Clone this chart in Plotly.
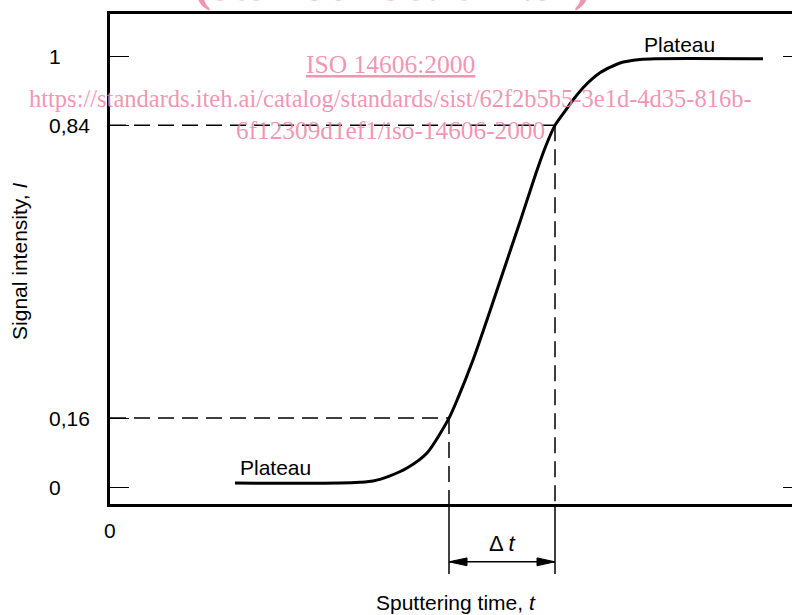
import plotly.graph_objects as go

# ---- data ----
time_t = [12.5, 23.0, 25.0, 26.3, 28.0, 29.7, 31.7, 33.9, 34.8, 36.3, 38.0, 39.3,
          41.0, 42.7, 43.7, 44.5, 45.5, 46.3, 47.5, 49.0, 51.0, 53.0, 54.5, 65.3]
intensity = [0.009, 0.009, 0.011, 0.014, 0.026, 0.044, 0.079, 0.16, 0.207, 0.295,
             0.409, 0.499, 0.616, 0.736, 0.799, 0.84, 0.873, 0.899, 0.932, 0.962, 0.985,
             0.993, 0.995, 0.995]
level_low, level_high = 0.16, 0.84
t_low, t_high = 33.9, 44.5
y_tick_vals = [0, 0.16, 0.84, 1]
y_tick_text = ["0", "0,16", "0,84", "1"]
right_tick_vals = [0, 1]

X_RANGE = [0, 68.2]
Y_RANGE = [-0.0395, 1.0987]

SANS = "Liberation Sans, Arial, sans-serif"
SERIF = "Liberation Serif, Times New Roman, serif"
PINK = "rgba(240,130,165,0.85)"
FS = 21

fig = go.Figure()
fig.add_trace(go.Scatter(x=time_t, y=intensity, mode="lines",
                         line=dict(color="black", width=3, shape="spline", smoothing=0.7),
                         hoverinfo="skip", showlegend=False))
# invisible trace for the right-hand ticks axis
fig.add_trace(go.Scatter(x=[None], y=[None], yaxis="y2", showlegend=False))

dash = "16px,8px"
for lvl, tt in [(level_low, t_low), (level_high, t_high)]:
    fig.add_shape(type="line", xref="x", yref="y", x0=0, x1=tt, y0=lvl, y1=lvl,
                  line=dict(color="black", width=1.5, dash=dash))
    fig.add_shape(type="line", xref="x", yref="y", x0=tt, x1=tt, y0=lvl, y1=Y_RANGE[0],
                  line=dict(color="black", width=1.5, dash=dash))
    fig.add_shape(type="line", xref="x", yref="paper", x0=tt, x1=tt, y0=0, y1=-0.143,
                  line=dict(color="black", width=1.5))

# double arrow for delta t
ya = -0.118
fig.add_shape(type="line", xref="x", yref="paper", x0=t_low, x1=t_high, y0=ya, y1=ya,
              line=dict(color="black", width=1.5))
hl, hw = 1.8, 0.008
fig.add_shape(type="path", xref="x", yref="paper",
              path=f"M {t_low},{ya} L {t_low+hl},{ya+hw} L {t_low+hl},{ya-hw} Z",
              fillcolor="black", line=dict(color="black", width=1))
fig.add_shape(type="path", xref="x", yref="paper",
              path=f"M {t_high},{ya} L {t_high-hl},{ya+hw} L {t_high-hl},{ya-hw} Z",
              fillcolor="black", line=dict(color="black", width=1))

ann = []
for v, txt in zip(y_tick_vals, y_tick_text):
    ann.append(dict(x=-0.092, xref="paper", y=v, yref="y", text=txt, showarrow=False,
                    xanchor="left", yanchor="middle", font=dict(family=SANS, size=FS, color="black")))
ann.append(dict(x=0, xref="x", y=-0.055, yref="paper", text="0", showarrow=False,
                xanchor="center", yanchor="middle", font=dict(family=SANS, size=FS, color="black")))
ann.append(dict(x=-0.132, xref="paper", y=0.496, yref="paper", text="Signal intensity, <i>I</i>",
                textangle=-90, showarrow=False, xanchor="center", yanchor="middle",
                font=dict(family=SANS, size=FS, color="black")))
ann.append(dict(x=0.507, xref="paper", y=-0.202, yref="paper", text="Sputtering time, <i>t</i>",
                showarrow=False, xanchor="center", yanchor="middle",
                font=dict(family=SANS, size=FS, color="black")))
ann.append(dict(x=(t_low + t_high) / 2, xref="x", y=-0.0796, yref="paper", text="Δ <i>t</i>",
                showarrow=False, xanchor="center", yanchor="middle",
                font=dict(family=SANS, size=22, color="black")))
ann.append(dict(x=12.8, xref="x", y=0.046, yref="y", text="Plateau", showarrow=False,
                xanchor="left", yanchor="middle", font=dict(family=SANS, size=FS, color="black")))
ann.append(dict(x=53.2, xref="x", y=1.029, yref="y", text="Plateau", showarrow=False,
                xanchor="left", yanchor="middle", font=dict(family=SANS, size=FS, color="black")))
# watermark texts
ann.append(dict(x=0.4135, xref="paper", y=1.063, yref="paper", text="<b>(standards.iteh.ai)</b>",
                showarrow=False, xanchor="center", yanchor="middle",
                font=dict(family=SERIF, size=51, color=PINK)))
ann.append(dict(x=0.4106, xref="paper", y=0.896, yref="paper", text="<u>ISO 14606:2000</u>",
                showarrow=False, xanchor="center", yanchor="middle",
                font=dict(family=SERIF, size=25.5, color=PINK)))
ann.append(dict(x=0.4106, xref="paper", y=0.827, yref="paper",
                text="https://standards.iteh.ai/catalog/standards/sist/62f2b5b5-3e1d-4d35-816b-",
                showarrow=False, xanchor="center", yanchor="middle",
                font=dict(family=SERIF, size=24.5, color=PINK)))
ann.append(dict(x=0.4106, xref="paper", y=0.763, yref="paper",
                text="6f12309d1ef1/iso-14606-2000",
                showarrow=False, xanchor="center", yanchor="middle",
                font=dict(family=SERIF, size=25.3, color=PINK)))

fig.update_layout(
    width=792, height=615,
    margin=dict(l=110, r=0, t=14, b=111),
    paper_bgcolor="white", plot_bgcolor="white",
    showlegend=False,
    xaxis=dict(range=X_RANGE, showgrid=False, zeroline=False, showline=True, mirror=True,
               linecolor="black", linewidth=2.5, showticklabels=False, ticks=""),
    yaxis=dict(range=Y_RANGE, showgrid=False, zeroline=False, showline=True,
               linecolor="black", linewidth=2.5, tickvals=y_tick_vals, ticks="inside",
               ticklen=19, tickwidth=1.2, tickcolor="black", showticklabels=False),
    yaxis2=dict(range=Y_RANGE, overlaying="y", side="right", showgrid=False, zeroline=False,
                showline=False, tickvals=right_tick_vals, ticks="inside", ticklen=9,
                tickwidth=1.2, tickcolor="black", showticklabels=False),
    annotations=ann,
)

fig.write_html("out.html", config={"displayModeBar": False},
               post_script="document.body.style.margin='0';document.body.style.overflow='hidden';")
